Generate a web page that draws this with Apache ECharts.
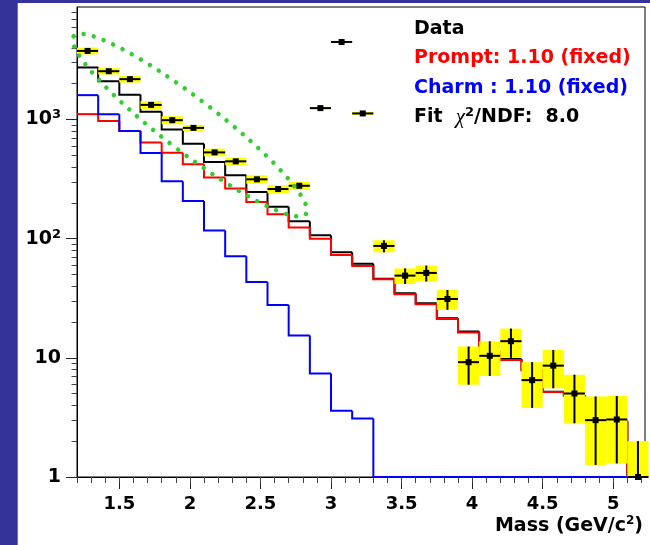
<!DOCTYPE html>
<html><head><meta charset="utf-8">
<script src="https://cdn.jsdelivr.net/npm/echarts@6/dist/echarts.min.js"></script>
<style>html,body{margin:0;padding:0;background:#fff}#c{width:650px;height:545px}</style>
</head><body><div id="c"></div>
<script>
// ---- data ----
const binEdges = [1.2,1.35,1.5,1.65,1.8,1.95,2.1,2.25,2.4,2.55,2.7,2.85,3.0,3.15,3.3,3.45,3.6,3.75,3.9,4.05,4.2,4.35,4.5,4.65,4.8,4.95,5.1,5.25];
const dataValues  = [3767,2545,2183,1327,988,851,530,446,315,261,278,1247,4478,1125,86.9,49,51.6,31.2,9.2,10.4,13.8,6.5,8.6,5.02,3.0,3.04,1.0];
const dataStatErr = [60,40,35,25,20,18,14,12,10,9,9,20,40,18,10,7.3,7.9,5.9,3.25,3.35,3.8,2.7,3.05,2.2,1.74,1.74,1.0];
const dataSystErr = [245,155,138,102,77,50,39,33,26,20,22,30,45,28,10,7.3,7.9,5.9,3.25,3.35,3.8,2.7,3.05,2.2,1.74,1.74,1.0];
const fitTotal  = [2735,2098,1611,1161,826,625,440,340,246,185,140,107,76.9,61.7,46.2,34.8,28.7,21.5,16.6,11.4,9.8,7.95,5.2,4.85,3.05,2.95,0.9];
const promptFit = [1110,970,800,642,526,421,327,264,203,160,124,100,73,59,45.7,34.2,28.2,21.2,16.3,11.2,9.6,7.83,5.16,4.80,3.02,2.92,0.9];
const charmFit  = [1602,1110,800,523,303,207,117,71.2,43.4,27.8,15.4,7.39,3.59,3.10,0,0,0,0,0,0,0,0,0,0,0,0,0];
const xTickLabels = [1.5,2,2.5,3,3.5,4,4.5,5];
const yTickLabels = [1,10,100,1000];
const legendLines = ['Data','Prompt: 1.10 (fixed)','Charm : 1.10 (fixed)'];
const fitChi2 = '8.0';
// annotation ellipse (ends of its long axis, in data units)
const ellipseEnds = [[1.177,5000],[2.822,161]];

// ---- chart ----
const X_MIN=1.2, X_MAX=5.225, Y_MIN=1, Y_MAX=8800;
const FONT='"DejaVu Sans", sans-serif';
const minorX=[]; for(let k=0;k<=40;k++){ minorX.push(+(1.2+0.1*k).toFixed(2)); }
const minorY=[]; [1,10,100,1000].forEach(d=>{ for(let m=2;m<=9;m++){ if(d*m<=Y_MAX) minorY.push(d*m); } });

const chart = echarts.init(document.getElementById('c'), null, {renderer:'canvas', width:650, height:545});

function histSeries(name, values, color, z){
  return {
    type:'custom', name, z, xAxisIndex:0, yAxisIndex:0, silent:true,
    data: values.map((v,i)=>[(binEdges[i]+binEdges[i+1])/2, v, i]),
    renderItem(params, api){
      const i = api.value(2);
      const v = Math.max(values[i], Y_MIN);
      const lo = binEdges[i], hi = Math.min(binEdges[i+1], X_MAX);
      const pts = [];
      if (i>0) pts.push(api.coord([lo, Math.max(values[i-1], Y_MIN)]));
      pts.push(api.coord([lo, v]));
      pts.push(api.coord([hi, v]));
      return {type:'polyline', shape:{points:pts}, style:{stroke:color, lineWidth:2, fill:null, lineJoin:'miter'}};
    }
  };
}

const supRich = {
  n:{fontFamily:FONT, fontWeight:'bold', fontSize:19, color:'#000', lineHeight:22},
  s:{fontFamily:FONT, fontWeight:'bold', fontSize:13, color:'#000', verticalAlign:'top', lineHeight:14}
};

const option = {
  backgroundColor:'#333399',
  animation:false,
  graphic:[
    {type:'rect', z:-100, silent:true, shape:{x:17.7, y:3, width:640, height:550}, style:{fill:'#ffffff'}},
    {type:'text', z:100, x:414, y:29.5, style:{text:legendLines[0], font:'bold 19px '+FONT, fill:'#000', verticalAlign:'middle'}},
    {type:'text', z:100, x:414, y:58.5, style:{text:legendLines[1], font:'bold 19px '+FONT, fill:'#ff0000', verticalAlign:'middle'}},
    {type:'text', z:100, x:414, y:88.5, style:{text:legendLines[2], font:'bold 19px '+FONT, fill:'#0000ff', verticalAlign:'middle'}},
    {type:'text', z:100, x:414, y:117, style:{
      text:'{t|Fit  }{c|χ}{s|2}{t|/NDF:  '+fitChi2+'}', verticalAlign:'middle',
      rich:{
        t:{font:'bold 19px '+FONT, fill:'#000', lineHeight:22},
        c:{font:'italic 21px "Liberation Serif", serif', fill:'#000', lineHeight:22},
        s:{font:'bold 13px '+FONT, fill:'#000', verticalAlign:'top', lineHeight:14}
      }}}
  ],
  grid:{left:77, right:5, top:7, bottom:68, show:true, backgroundColor:'#fff', borderColor:'#000', borderWidth:1},
  xAxis:[
    {type:'value', min:X_MIN, max:X_MAX, position:'bottom',
     axisLine:{show:true, onZero:false, lineStyle:{color:'#000', width:1}},
     axisTick:{show:true, customValues:xTickLabels, length:12, lineStyle:{color:'#222'}},
     axisLabel:{customValues:xTickLabels, margin:18, fontFamily:FONT, fontWeight:'bold', fontSize:18, color:'#000'},
     splitLine:{show:false},
     name:'{t|Mass (GeV/c}{s|2}{t|)}', nameLocation:'end', nameGap:-2,
     nameTextStyle:{align:'right', verticalAlign:'top', padding:[38,0,0,0],
       rich:{t:{fontFamily:FONT, fontWeight:'bold', fontSize:19, color:'#000', lineHeight:22},
             s:{fontFamily:FONT, fontWeight:'bold', fontSize:12, color:'#000', verticalAlign:'top', lineHeight:13}}}
    },
    {type:'value', min:X_MIN, max:X_MAX, position:'bottom',
     axisLine:{show:false}, axisTick:{show:true, customValues:minorX, length:6, lineStyle:{color:'#444'}},
     axisLabel:{show:false}, splitLine:{show:false}}
  ],
  yAxis:[
    {type:'log', logBase:10, min:Y_MIN, max:Y_MAX, position:'left',
     axisLine:{show:true, onZero:false, lineStyle:{color:'#000', width:1}},
     axisTick:{show:true, customValues:yTickLabels, length:11, lineStyle:{color:'#222'}},
     axisLabel:{customValues:yTickLabels, margin:16, align:'right',
       formatter:(v)=>{ const e=Math.round(Math.log10(v)); if(e===0) return '{n|1}'; if(e===1) return '{n|10}'; return '{n|10}{s|'+e+'}'; },
       rich:supRich},
     splitLine:{show:false}},
    {type:'log', logBase:10, min:Y_MIN, max:Y_MAX, position:'left',
     axisLine:{show:false}, axisTick:{show:true, customValues:minorY, length:5.5, lineStyle:{color:'#444'}},
     axisLabel:{show:false}, splitLine:{show:false}}
  ],
  series:[
    histSeries('Fit total', fitTotal, '#000000', 2),
    histSeries('Prompt', promptFit, '#ff0000', 3),
    histSeries('Charm', charmFit, '#0000ff', 4),
    {
      type:'custom', name:'Data', z:5, silent:true, clip:false,
      data: dataValues.map((v,i)=>[(binEdges[i]+binEdges[i+1])/2, v, i]),
      renderItem(params, api){
        const i = api.value(2);
        const v = dataValues[i], st = dataStatErr[i], sy = dataSystErr[i];
        const lo = binEdges[i], hi = binEdges[i+1], c = (lo+hi)/2;
        const bT = api.coord([lo, v+sy]), bB = api.coord([hi, Math.max(v-sy, Y_MIN)]);
        const pL = api.coord([lo, v]), pR = api.coord([hi, v]);
        const sT = api.coord([c, v+st]), sB = api.coord([c, Math.max(v-st, Y_MIN)]);
        const pc = api.coord([c, v]);
        return {type:'group', children:[
          {type:'rect', shape:{x:bT[0], y:bT[1], width:bB[0]-bT[0], height:Math.max(bB[1]-bT[1],1)}, style:{fill:'#ffff00'}},
          {type:'line', shape:{x1:pL[0], y1:pL[1], x2:pR[0], y2:pR[1]}, style:{stroke:'#000', lineWidth:2}},
          {type:'line', shape:{x1:sT[0], y1:sT[1], x2:sB[0], y2:sB[1]}, style:{stroke:'#000', lineWidth:2}},
          {type:'rect', shape:{x:pc[0]-3, y:pc[1]-3, width:6, height:6}, style:{fill:'#000'}}
        ]};
      }
    },
    {
      type:'custom', name:'Region', z:6, silent:true, clip:false,
      data:[[ (ellipseEnds[0][0]+ellipseEnds[1][0])/2, Math.sqrt(ellipseEnds[0][1]*ellipseEnds[1][1]) ]],
      renderItem(params, api){
        const p1 = api.coord(ellipseEnds[0]), p2 = api.coord(ellipseEnds[1]);
        const dx = p2[0]-p1[0], dy = p2[1]-p1[1];
        const cx = (p1[0]+p2[0])/2, cy = (p1[1]+p2[1])/2;
        const rx = Math.sqrt(dx*dx+dy*dy)/2;
        return {type:'ellipse', x:cx, y:cy, rotation:-Math.atan2(dy,dx),
          shape:{cx:0, cy:0, rx:rx, ry:26.5},
          style:{fill:null, stroke:'#33cc33', lineWidth:4.5, lineCap:'round', lineDash:[0.01, 10.5]}};
      }
    }
  ]
};
chart.setOption(option);
</script>
</body></html>
